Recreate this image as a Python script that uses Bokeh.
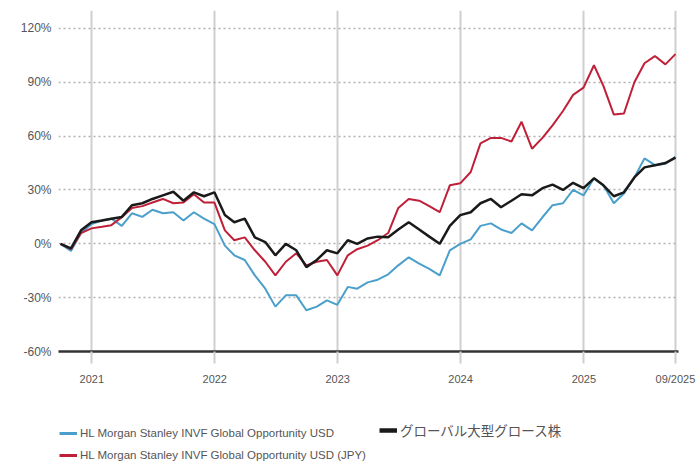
import pandas as pd
from bokeh.plotting import figure
from bokeh.layouts import column
from bokeh.models import Range1d, FixedTicker, Legend, LegendItem
from bokeh.embed import file_html
from bokeh.resources import INLINE

# ---- data (cumulative return, %) monthly from 2020-09-30 to 2025-09-30 ----
start_date = "2020-09-30"
n_months = 61
usd = [0, -4, 6, 11, 13, 14, 10, 17, 15, 19, 17, 17.6, 13, 17.6, 14, 11,
       -1, -6.4, -9, -17.6, -25, -35, -28.7, -28.7, -37, -35, -31.5, -34,
       -24, -25, -21.5, -20, -17, -12, -7.5, -11, -14, -17.6, -3.6, 0,
       2.5, 10, 11.4, 8, 6, 11.4, 7.5, 14.8, 21.5, 22.6, 30, 27,
       36.5, 32.6, 22.6, 28, 37, 47.6, 43.8, 44.6, 48.5]
jpy = [0, -3, 6, 8.6, 9.5, 10.4, 14.8, 20, 21, 23, 25, 22.6, 23, 27.6, 23, 23,
       7.5, 2, 3.6, -3.6, -10, -17.6, -10, -5.3, -12, -10, -9, -17.6,
       -6.4, -3, -1, 2, 6, 20, 25, 24, 21, 17.6, 32.6, 33.7,
       40, 56, 59, 59, 57, 68, 53, 59, 66, 74, 83, 87,
       99.5, 88, 72, 72.6, 90, 100.6, 104.6, 100, 105.7]
bench = [0, -2.5, 7.5, 12, 13, 14, 15, 21.5, 22.6, 25, 27, 29, 24, 28.7, 26.5, 28.7,
         16, 12, 14, 3.6, 1, -6.4, 0, -3.6, -13, -9, -3.6, -5.3,
         2, 0, 3, 4, 3.6, 8, 12, 8, 4, 0, 10, 16,
         17.6, 22.6, 25, 20.4, 24, 27.6, 27, 31, 33, 30, 34, 31,
         36.5, 32.6, 26.5, 28.7, 37, 42.6, 43.8, 45, 48]
names = ["HL Morgan Stanley INVF Global Opportunity USD",
         "HL Morgan Stanley INVF Global Opportunity USD (JPY)",
         "グローバル大型グロース株"]
colors = ["#4a9fcb", "#bf2038", "#1a1a1a"]
x_tick_dates = ["2021-01-01", "2022-01-01", "2023-01-01", "2024-01-01", "2025-01-01", "2025-09-30"]
x_tick_labels = ["2021", "2022", "2023", "2024", "2025", "09/2025"]
y_ticks = [-60, -30, 0, 30, 60, 90, 120]


def ms(d):
    return pd.Timestamp(d).value / 1e6


dates = pd.date_range(start_date, periods=n_months, freq="ME")
xs = [ms(d) for d in dates]

FONT = "Liberation Sans"

p = figure(width=697, height=395, output_backend="svg", toolbar_location=None,
           min_border_left=58, min_border_right=19, min_border_top=10, min_border_bottom=44,
           x_range=Range1d(ms("2020-09-24"), ms("2025-10-09")),
           y_range=Range1d(-60, 130))
p.outline_line_color = None

# x axis
xt = [ms(d) for d in x_tick_dates]
p.xaxis.ticker = FixedTicker(ticks=xt)
p.xaxis.major_label_overrides = {t: l for t, l in zip(xt, x_tick_labels)}
p.xaxis.axis_line_color = "#333333"
p.xaxis.axis_line_width = 2.5
p.xaxis.major_tick_line_color = "#cfcfcf"
p.xaxis.major_tick_line_width = 2
p.xaxis.major_tick_out = 12
p.xaxis.major_tick_in = 0
p.xaxis.minor_tick_line_color = None
p.xaxis.major_label_text_font = FONT
p.xaxis.major_label_text_font_size = "11px"
p.xaxis.major_label_text_color = "#555555"
p.xaxis.major_label_standoff = 9

# y axis
p.yaxis.ticker = FixedTicker(ticks=y_ticks)
p.yaxis.major_label_overrides = {t: f"{t}%" for t in y_ticks}
p.yaxis.axis_line_color = None
p.yaxis.major_tick_line_color = None
p.yaxis.major_tick_out = 0
p.yaxis.major_tick_in = 0
p.yaxis.minor_tick_line_color = None
p.yaxis.major_label_text_font = FONT
p.yaxis.major_label_text_font_size = "12px"
p.yaxis.major_label_text_color = "#555555"
p.yaxis.major_label_standoff = 7

# grids
p.xgrid.ticker = FixedTicker(ticks=xt)
p.xgrid.grid_line_color = "#cfcfcf"
p.xgrid.grid_line_width = 2
p.ygrid.ticker = FixedTicker(ticks=[t for t in y_ticks if t != -60])
p.ygrid.grid_line_color = "#b0b0b0"
p.ygrid.grid_line_width = 1.5
p.ygrid.grid_line_dash = "2 3"

p.line(xs, usd, line_color=colors[0], line_width=2)
p.line(xs, jpy, line_color=colors[1], line_width=2)
p.line(xs, bench, line_color=colors[2], line_width=2.5)

# ---- legend strip below the chart (series drawn outside its view, only keys show) ----
lg = figure(width=697, height=70, output_backend="svg", toolbar_location=None,
            min_border=0, x_axis_location=None, y_axis_location=None,
            x_range=Range1d(0, 1), y_range=Range1d(0, 1))
lg.outline_line_color = None
lg.xgrid.visible = False
lg.ygrid.visible = False
k_usd = lg.line(xs, usd, line_color=colors[0], line_width=3)
k_jpy = lg.line(xs, jpy, line_color=colors[1], line_width=3)
k_bench = lg.line(xs, bench, line_color=colors[2], line_width=4.5)


def add_key(r, label, loc, font, size):
    leg = Legend(items=[LegendItem(label=label, renderers=[r])], location=loc,
                 border_line_color=None, background_fill_alpha=0, padding=0, margin=0,
                 spacing=0, glyph_width=18, glyph_height=14, label_standoff=3,
                 label_height=14, label_text_font=font, label_text_font_size=size,
                 label_text_color="#555555")
    lg.add_layout(leg, "center")


add_key(k_usd, names[0], (1, 25), FONT, "11.5px")
add_key(k_jpy, names[1], (1, 3), FONT, "11.5px")
add_key(k_bench, names[2], (321, 25), "Noto Sans CJK JP", "13.5px")

open("out.html", "w").write(file_html(column(p, lg, spacing=0), INLINE))
